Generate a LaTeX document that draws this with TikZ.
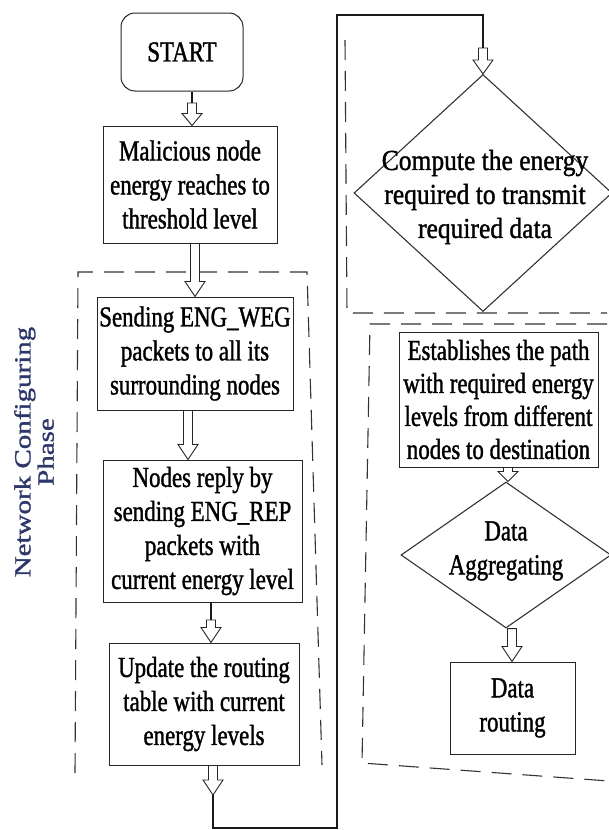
\documentclass[tikz,border=0pt]{standalone}
\usepackage{fontspec}
\setmainfont{Liberation Serif}[FakeStretch=0.79,FakeBold=1.2]
\newfontfamily\compfont{Liberation Serif}[FakeStretch=0.88,FakeBold=1.2]
\newfontfamily\lblfont{Liberation Serif}[FakeBold=1.2]
\usetikzlibrary{shapes.geometric,calc}
\definecolor{lblblue}{RGB}{45,55,105}
\newcommand{\hollow}[3][15pt]{\draw[harrow] let \p1=(#2), \p2=(#3) in
  (\x1-4.5pt,\y1) -- (\x1-4.5pt,\y2+#1) -- (\x1-10pt,\y2+#1) -- (\x1,\y2) --
  (\x1+10pt,\y2+#1) -- (\x1+4.5pt,\y2+#1) -- (\x1+4.5pt,\y1) -- cycle;}
\begin{document}
\begin{tikzpicture}[x=1pt,y=-1pt,
  box/.style={draw=black!85, line width=1pt, inner sep=0pt, align=center,
    font=\fontsize{29}{34}\selectfont},
  txt/.style={inner sep=0pt, align=center, font=\fontsize{29}{34}\selectfont},
  dia/.style={diamond, draw=black!80, line width=1.1pt, inner sep=0pt},
  harrow/.style={draw=black!85, line width=0.9pt, fill=white, line join=miter},
  dashbox/.style={draw=black!80, line width=1.1pt, dash pattern=on 20pt off 11pt},
  conn/.style={draw=black!90, line width=1.1pt}]
\useasboundingbox (0,0) rectangle (609,830);

% dashed phase boxes
\draw[dashbox] (75,773) -- (78,272) -- (307,272) -- (322,765);
\draw[dashbox] (345,40) -- (347,313) -- (607,313);
\draw[dashbox] (607,324) -- (370,324) -- (362,763) -- (609,781);

% nodes
\node[box, rounded corners=14pt, minimum width=122pt, minimum height=78pt] (start) at (182,52) {START};
\node[box, minimum width=174pt, minimum height=117pt] (mal) at (190,184.5) {Malicious node\\energy reaches to\\threshold level};
\node[box, minimum width=196pt, minimum height=113pt] (send) at (195,353.5) {Sending ENG\_WEG\\packets to all its\\surrounding nodes};
\node[box, minimum width=199pt, minimum height=142pt] (reply) at (202.5,531) {Nodes reply by\\sending ENG\_REP\\packets with\\current energy level};
\node[box, minimum width=190pt, minimum height=122pt] (upd) at (204,704) {Update the routing\\table with current\\energy levels};
\node[dia, minimum width=258pt, minimum height=237pt] (comp) at (483,193) {};
\node[txt, font=\compfont\fontsize{29}{34}\selectfont] (compt) at (485,197) {Compute the energy\\required to transmit\\required data};
\node[box, minimum width=199pt, minimum height=135pt, font=\fontsize{29}{33}\selectfont] (est) at (498.5,399.5) {Establishes the path\\with required energy\\levels from different\\nodes to destination};
\node[dia, minimum width=210pt, minimum height=146pt] (agg) at (506,555) {};
\node[txt] (aggt) at (506,551) {Data\\Aggregating};
\node[box, minimum width=125pt, minimum height=92pt] (route) at (512.5,708) {Data\\routing};
\node[txt, text=lblblue, font=\lblfont\fontsize{29}{29}\selectfont, rotate=90, yscale=0.8] (phase) at (34,452) {Network Configuring\\Phase};

% connectors
\coordinate (s1) at (192,103);
\draw[conn] (s1 |- start.south) -- (s1);
\hollow[12pt]{s1}{s1 |- mal.north}
\hollow{$(mal.south)+(5,0)$}{send.north}
\hollow{$(send.south)+(-7,0)$}{reply.north}
\coordinate (r1) at (211,620);
\draw[conn] (r1 |- reply.south) -- (r1);
\hollow{r1}{upd.north}
\coordinate (c0) at (213,795);
\coordinate (c1) at (213,828);
\coordinate (c2) at (337,828);
\coordinate (c3) at (337,15);
\coordinate (c4) at (483,15);
\coordinate (c5) at (483,48);
\hollow{$(upd.south)+(9,0)$}{c0}
\draw[conn] (c0) -- (c1) -- (c2) -- (c3) -- (c4) -- (c5);
\hollow[14pt]{c5}{comp.north}
\hollow[10pt]{$(est.south)+(9.5,0)$}{agg.north}
\hollow{$(agg.south)+(6,0)$}{route.north}
\end{tikzpicture}
\end{document}
